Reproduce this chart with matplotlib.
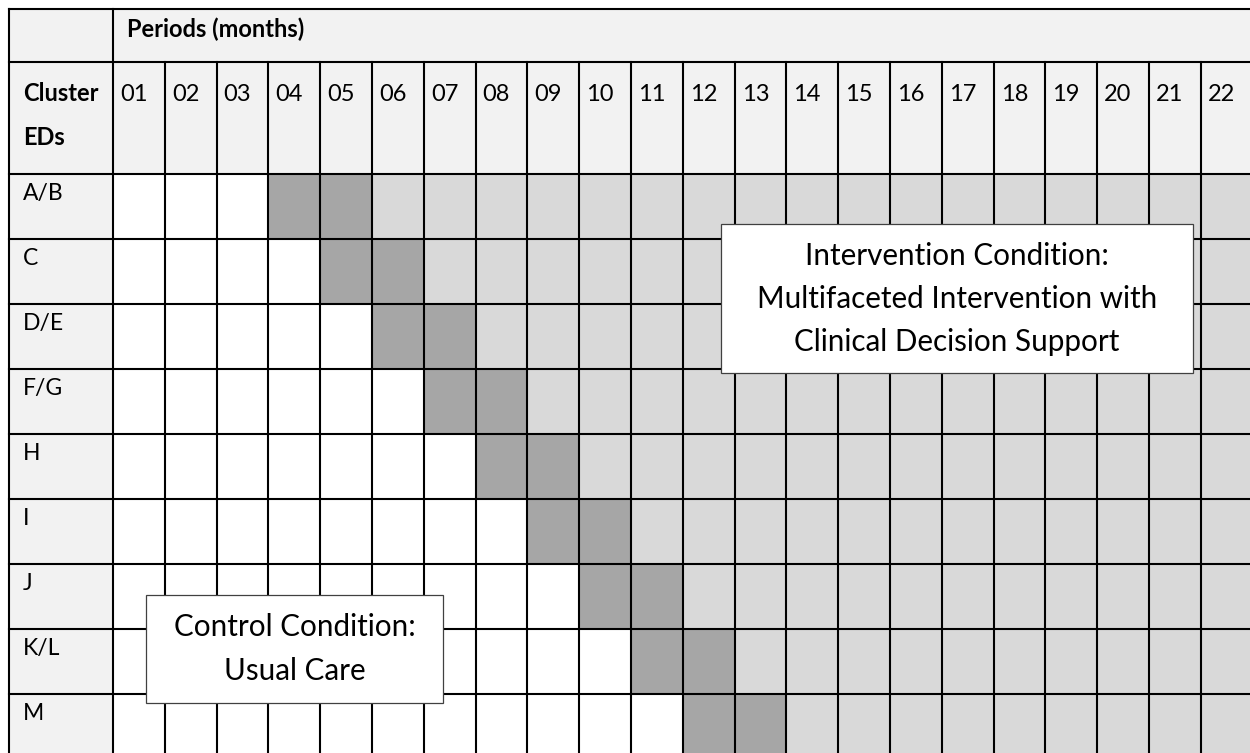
import matplotlib
matplotlib.use("Agg")
import matplotlib.pyplot as plt
from matplotlib.patches import Rectangle

# data
clusters = ["A/B", "C", "D/E", "F/G", "H", "I", "J", "K/L", "M"]
periods = ["01", "02", "03", "04", "05", "06", "07", "08", "09", "10", "11",
           "12", "13", "14", "15", "16", "17", "18", "19", "20", "21", "22"]
transition_start = [4, 5, 6, 7, 8, 9, 10, 11, 12]  # first transition month per cluster
transition_months = 2
header_title = "Periods (months)"
row_header = ["Cluster", "EDs"]
intervention_text = ["Intervention Condition:", "Multifaceted Intervention with",
                     "Clinical Decision Support"]
control_text = ["Control Condition:", "Usual Care"]

# layout (pixels)
W, H = 1250, 753
left, top = 9, 9
label_w = 104
col_w = 51.8
h1, h2 = 53, 112
row_h = 65
body_top = top + h1 + h2
col0 = left + label_w

HEAD_BG = "#f2f2f2"
DARK = "#a6a6a6"
LIGHT = "#d9d9d9"
LW = 1.5

plt.rcParams["font.family"] = ["Lato", "DejaVu Sans"]

fig = plt.figure(figsize=(W / 100, H / 100), dpi=100)
ax = fig.add_axes([0, 0, 1, 1])
ax.set_xlim(0, W)
ax.set_ylim(H, 0)
ax.axis("off")

right = col0 + col_w * len(periods)
bottom = body_top + row_h * len(clusters)

# header background + label column
ax.add_patch(Rectangle((left, top), right - left, h1 + h2, color=HEAD_BG, lw=0))
ax.add_patch(Rectangle((left, body_top), label_w, bottom - body_top, color=HEAD_BG, lw=0))

# body cells
for i, start in enumerate(transition_start):
    y = body_top + i * row_h
    for j, p in enumerate(periods):
        m = int(p)
        if m < start:
            c = "white"
        elif m < start + transition_months:
            c = DARK
        else:
            c = LIGHT
        ax.add_patch(Rectangle((col0 + j * col_w, y), col_w, row_h, color=c, lw=0))

# grid lines
ys = [top, top + h1] + [body_top + i * row_h for i in range(len(clusters) + 1)]
for y in ys:
    ax.plot([left, right], [y, y], color="black", lw=LW, solid_capstyle="projecting")
for x in [left, col0]:
    ax.plot([x, x], [top, bottom], color="black", lw=LW, solid_capstyle="projecting")
for j in range(1, len(periods) + 1):
    x = col0 + j * col_w
    ax.plot([x, x], [top + h1, bottom], color="black", lw=LW, solid_capstyle="projecting")

# header text
ax.text(col0 + 14, top + 28, header_title, fontsize=17, fontweight="bold",
        va="baseline", ha="left")
for j, p in enumerate(periods):
    ax.text(col0 + j * col_w + 7, body_top - 73, p, fontsize=17, va="baseline", ha="left")
ax.text(left + 14, body_top - 73, row_header[0], fontsize=17, fontweight="bold",
        va="baseline", ha="left")
ax.text(left + 14, body_top - 29, row_header[1], fontsize=17, fontweight="bold",
        va="baseline", ha="left")
for i, c in enumerate(clusters):
    ax.text(left + 14, body_top + i * row_h + 26, c, fontsize=16.5, va="baseline", ha="left")

# annotation boxes
def note_box(x0, y0, x1, y1, lines, base0, step):
    ax.add_patch(Rectangle((x0, y0), x1 - x0, y1 - y0, facecolor="white",
                           edgecolor="#404040", lw=0.9, zorder=5))
    cx = (x0 + x1) / 2
    for k, s in enumerate(lines):
        ax.text(cx, base0 + k * step, s, fontsize=21.3, ha="center", va="baseline", zorder=6)

note_box(721, 224, 1193, 373, intervention_text, 265, 43)
note_box(146, 595, 443, 703, control_text, 636, 44)

fig.savefig("out.png", dpi=100)
